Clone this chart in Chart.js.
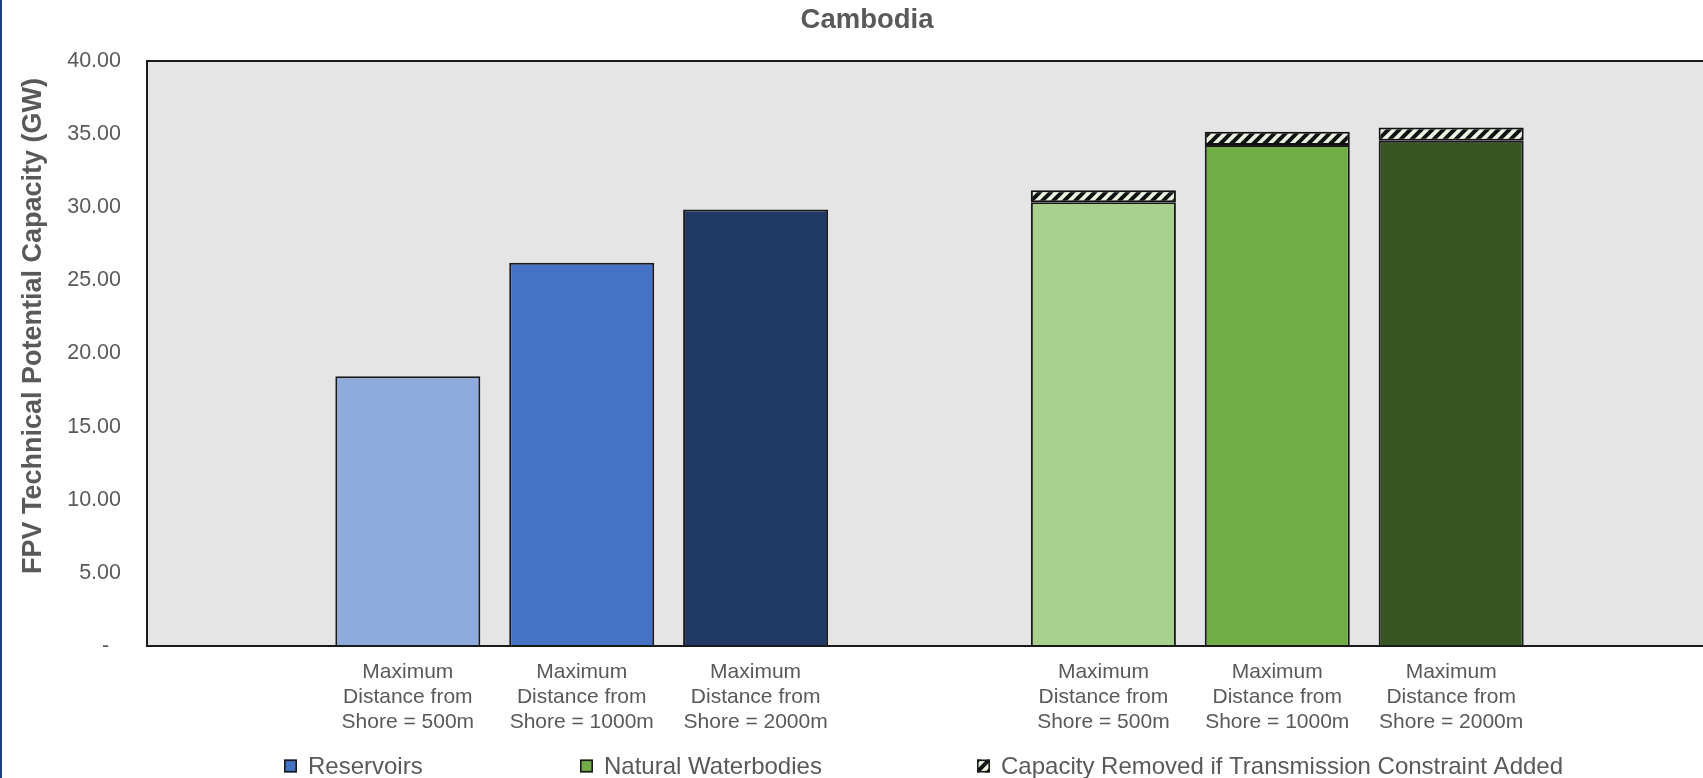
<!DOCTYPE html>
<html>
<head>
<meta charset="utf-8">
<title>Cambodia – FPV Technical Potential Capacity</title>
<script src="https://cdn.jsdelivr.net/npm/chart.js@4.4.1/dist/chart.umd.min.js"></script>
<style>
  html, body { margin: 0; padding: 0; background: #ffffff; overflow: hidden; }
  #wrap { position: relative; width: 1703px; height: 778px; overflow: hidden; }
  #edge { position: absolute; left: 0; top: 0; width: 2px; height: 778px; background: #1c3f80; z-index: 2; }
  canvas { position: absolute; left: 0; top: 0; }
</style>
</head>
<body>
<div id="wrap">
  <div id="edge"></div>
  <canvas id="chart" width="1716" height="778"></canvas>
</div>
<script>
// Categories: blank slots separate the reservoir and natural-waterbody groups
const categories = [
  '',
  ['Maximum', 'Distance from', 'Shore = 500m'],
  ['Maximum', 'Distance from', 'Shore = 1000m'],
  ['Maximum', 'Distance from', 'Shore = 2000m'],
  '',
  ['Maximum', 'Distance from', 'Shore = 500m'],
  ['Maximum', 'Distance from', 'Shore = 1000m'],
  ['Maximum', 'Distance from', 'Shore = 2000m'],
  ''
];

// Capacity in GW
const reservoirs = [null, 18.45, 26.2, 29.85, null, null, null, null, null];
const naturalWaterbodies = [null, null, null, null, null, 30.35, 34.25, 34.55, null];
const capacityRemoved = [null, null, null, null, null, 0.82, 0.92, 0.90, null];

const seriesNames = ['Reservoirs', 'Natural Waterbodies', 'Capacity Removed if Transmission Constraint Added'];
const chartTitle = 'Cambodia';
const yAxisTitle = 'FPV Technical Potential Capacity (GW)';
const yTickValues = [0, 5, 10, 15, 20, 25, 30, 35, 40];

const reservoirColors = [null, '#8faadc', '#4472c4', '#203864', null, null, null, null, null];
const naturalColors = [null, null, null, null, null, '#a9d18e', '#70ad47', '#375623', null];

const TEXT = '#595959';
const FONT = "'Liberation Sans', Arial, Helvetica, sans-serif";

// Diagonal hatch used for the removed-capacity segments
function makeHatch() {
  const s = 11;
  const c = document.createElement('canvas');
  c.width = s; c.height = s;
  const g = c.getContext('2d');
  g.fillStyle = '#eaf4e2';
  g.fillRect(0, 0, s, s);
  g.strokeStyle = '#111111';
  g.lineWidth = 4;
  g.lineCap = 'square';
  for (const o of [-s, 0, s]) {
    g.beginPath();
    g.moveTo(o, s);
    g.lineTo(o + s, 0);
    g.stroke();
  }
  return g.createPattern(c, 'repeat');
}
const hatch = makeHatch();

// Plot background, frame, titles and legend
const decorations = {
  id: 'decorations',
  beforeDatasetsDraw(chart) {
    const { ctx, chartArea: a } = chart;
    ctx.save();
    ctx.fillStyle = '#e5e5e5';
    ctx.fillRect(a.left, a.top, a.right - a.left, a.bottom - a.top);
    ctx.restore();
  },
  afterDatasetsDraw(chart) {
    const { ctx, chartArea: a } = chart;
    ctx.save();
    ctx.strokeStyle = '#1a1a1a';
    ctx.lineWidth = 2;
    ctx.beginPath();
    ctx.moveTo(a.right + 2, a.top);
    ctx.lineTo(a.left, a.top);
    ctx.lineTo(a.left, a.bottom);
    ctx.lineTo(a.right + 2, a.bottom);
    ctx.stroke();
    ctx.restore();
  },
  afterDraw(chart) {
    const { ctx } = chart;
    ctx.save();
    // chart title
    ctx.fillStyle = TEXT;
    ctx.font = 'bold 27.5px ' + FONT;
    ctx.textAlign = 'center';
    ctx.textBaseline = 'middle';
    ctx.fillText(chartTitle, 867, 20);

    // value axis title
    ctx.save();
    ctx.translate(34, 326);
    ctx.rotate(-Math.PI / 2);
    ctx.font = 'bold 27px ' + FONT;
    ctx.fillText(yAxisTitle, 0, 0);
    ctx.restore();

    // legend
    const items = [
      { text: seriesNames[0], fill: '#4472c4', x: 284 },
      { text: seriesNames[1], fill: '#70ad47', x: 580 },
      { text: seriesNames[2], fill: hatch, x: 977 }
    ];
    const cy = 766, box = 13;
    ctx.font = '24px ' + FONT;
    ctx.textAlign = 'left';
    for (const it of items) {
      ctx.fillStyle = it.fill;
      ctx.fillRect(it.x, cy - box / 2, box, box);
      ctx.strokeStyle = '#1a1a1a';
      ctx.lineWidth = 1.6;
      ctx.strokeRect(it.x + 0.8, cy - box / 2 + 0.8, box - 1.6, box - 1.6);
      ctx.fillStyle = TEXT;
      ctx.fillText(it.text, it.x + box + 11, cy + 1);
    }
    ctx.restore();
  }
};

new Chart(document.getElementById('chart'), {
  type: 'bar',
  data: {
    labels: categories,
    datasets: [
      {
        label: seriesNames[0],
        data: reservoirs,
        backgroundColor: reservoirColors,
        borderColor: '#1a1a1a',
        borderWidth: 2,
        borderSkipped: 'start'
      },
      {
        label: seriesNames[1],
        data: naturalWaterbodies,
        backgroundColor: naturalColors,
        borderColor: '#1a1a1a',
        borderWidth: 2,
        borderSkipped: 'start'
      },
      {
        label: seriesNames[2],
        data: capacityRemoved,
        backgroundColor: hatch,
        borderColor: '#111111',
        borderWidth: 2,
        borderSkipped: false
      }
    ]
  },
  options: {
    responsive: false,
    animation: false,
    devicePixelRatio: 1,
    layout: { padding: { top: 61, right: 4, bottom: 0, left: 0 } },
    datasets: { bar: { barPercentage: 0.834, categoryPercentage: 1.0 } },
    plugins: {
      legend: { display: false },
      title: { display: false },
      tooltip: { enabled: false }
    },
    scales: {
      x: {
        stacked: true,
        offset: true,
        grid: { display: false, drawTicks: false },
        border: { display: false },
        ticks: {
          color: TEXT,
          font: { family: FONT, size: 21, lineHeight: '25px' },
          padding: 14,
          maxRotation: 0,
          minRotation: 0,
          autoSkip: false
        },
        afterFit(scale) { scale.height = 132; }
      },
      y: {
        stacked: true,
        min: 0,
        max: 40,
        afterBuildTicks(scale) { scale.ticks = yTickValues.map(v => ({ value: v })); },
        grid: { display: false, drawTicks: false },
        border: { display: false },
        ticks: {
          color: TEXT,
          font: { family: FONT, size: 21.5 },
          padding: 26,
          callback: v => (v === 0 ? '-  ' : Number(v).toFixed(2))
        },
        title: { display: false },
        afterFit(scale) { scale.width = 147; }
      }
    }
  },
  plugins: [decorations]
});
</script>
</body>
</html>
